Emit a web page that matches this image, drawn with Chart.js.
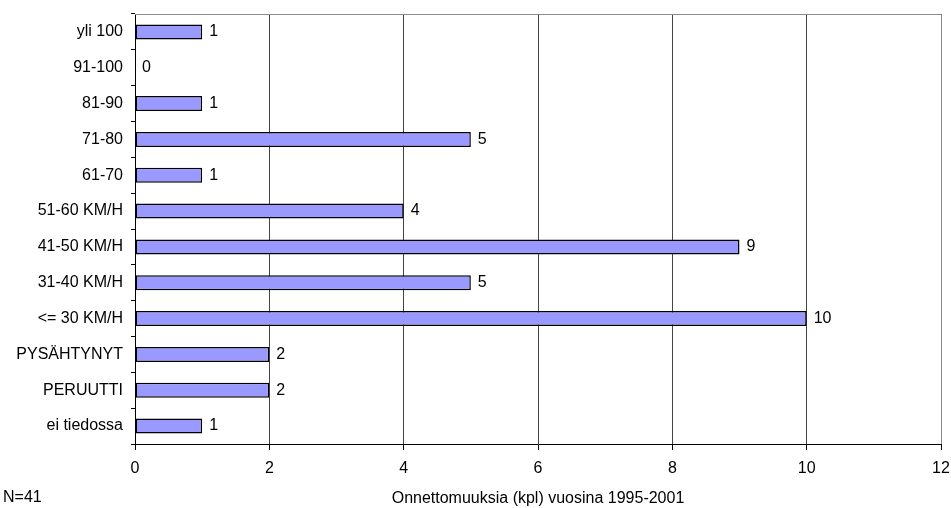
<!DOCTYPE html>
<html>
<head>
<meta charset="utf-8">
<script src="https://cdn.jsdelivr.net/npm/chart.js@4"></script>
<style>
  html, body { margin: 0; padding: 0; background: #fff; }
  #wrap { width: 951px; height: 508px; }
</style>
</head>
<body>
<div id="wrap"><canvas id="chart" width="951" height="508"></canvas></div>
<script>
// speed classes, top row first
const speedClasses = ['yli 100', '91-100', '81-90', '71-80', '61-70', '51-60 KM/H',
  '41-50 KM/H', '31-40 KM/H', '<= 30 KM/H', 'PYSÄHTYNYT', 'PERUUTTI', 'ei tiedossa'];
const accidents = [1, 0, 1, 5, 1, 4, 9, 5, 10, 2, 2, 1];
const xTicks = [0, 2, 4, 6, 8, 10, 12];
const countNote = 'N=41';
const axisTitle = 'Onnettomuuksia (kpl) vuosina 1995-2001';

const font = "'Liberation Sans', Arial, sans-serif";
Chart.defaults.font.family = font;
Chart.defaults.font.size = 16;
Chart.defaults.color = '#000';

// value next to each bar, frame line on top and the N note
const extras = {
  id: 'extras',
  afterDatasetsDraw(chart) {
    const ctx = chart.ctx;
    const area = chart.chartArea;
    ctx.save();
    ctx.strokeStyle = '#8c8c8c';
    ctx.lineWidth = 1;
    ctx.beginPath();
    ctx.moveTo(area.left, area.top + 0.5);
    ctx.lineTo(area.right + 0.5, area.top + 0.5);
    ctx.lineTo(area.right + 0.5, area.bottom);
    ctx.stroke();

    ctx.font = '16px ' + font;
    ctx.fillStyle = '#000';
    ctx.textBaseline = 'middle';
    ctx.textAlign = 'left';
    chart.getDatasetMeta(0).data.forEach((bar, i) => {
      ctx.fillText(String(accidents[i]), bar.x + 7, bar.y);
    });
    ctx.fillText(countNote, 3, 498);
    ctx.restore();
  }
};

new Chart(document.getElementById('chart'), {
  type: 'bar',
  data: {
    labels: speedClasses,
    datasets: [{
      data: accidents,
      backgroundColor: '#9999ff',
      borderColor: '#000',
      borderWidth: 1.5,
      borderSkipped: false,
      barPercentage: 0.42,
      categoryPercentage: 1
    }]
  },
  options: {
    indexAxis: 'y',
    responsive: false,
    animation: false,
    layout: { padding: { top: 14, right: 10, left: 0, bottom: 0 } },
    plugins: {
      legend: { display: false },
      tooltip: { enabled: false }
    },
    scales: {
      x: {
        min: 0,
        max: 12,
        afterBuildTicks(scale) { scale.ticks = xTicks.map(v => ({ value: v })); },
        afterFit(scale) {
          scale.height = 64;
          scale.paddingLeft = 0;
          scale.paddingRight = 0;
        },
        grid: { color: '#444', tickColor: '#000', tickLength: 6 },
        border: { color: '#000' },
        ticks: { padding: 9, font: { size: 16 } },
        title: { display: true, text: axisTitle, font: { size: 16 }, padding: { top: 0, bottom: 0 } }
      },
      y: {
        afterFit(scale) {
          scale.width = 135;
          scale.paddingTop = 0;
          scale.paddingBottom = 0;
        },
        grid: { drawOnChartArea: false, tickColor: '#000', tickLength: 4, offset: true },
        border: { color: '#000' },
        ticks: { padding: 8, font: { size: 16 } }
      }
    }
  },
  plugins: [extras]
});
</script>
</body>
</html>
